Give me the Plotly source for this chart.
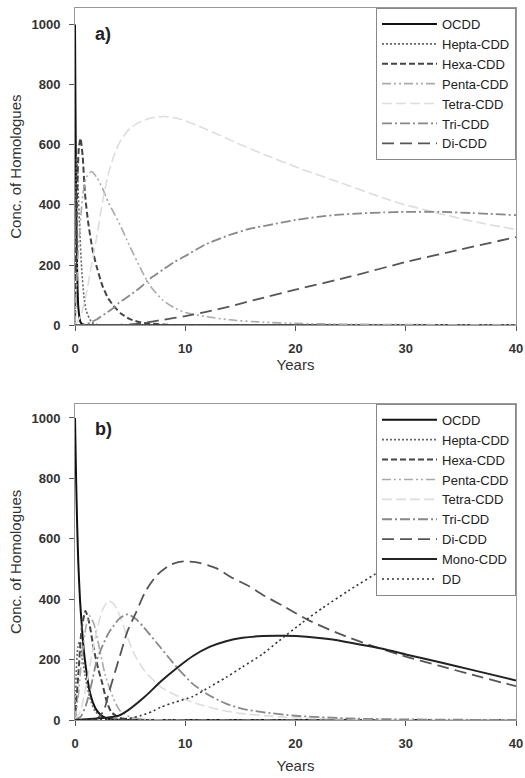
import plotly.graph_objects as go

# ---------------- Panel a data ----------------
t_a_ocdd = [0, 0.05, 0.1, 0.15, 0.2, 0.3, 0.5, 0.8, 2, 40]
v_a_ocdd = [1000, 700, 450, 280, 170, 60, 10, 1, 0, 0]

t_a_hepta = [0, 0.05, 0.1, 0.15, 0.2, 0.3, 0.4, 0.6, 0.8, 1.0, 1.5, 2, 3, 40]
v_a_hepta = [0, 300, 480, 560, 540, 440, 340, 190, 100, 50, 10, 2, 0, 0]

t_a_hexa = [0, 0.1, 0.2, 0.35, 0.5, 0.7, 0.9, 1.2, 1.6, 2, 2.5, 3, 3.6, 4.2, 5, 6, 8, 10, 40]
v_a_hexa = [0, 250, 450, 590, 622, 560, 440, 340, 250, 190, 130, 90, 60, 38, 20, 9, 2, 0, 0]

t_a_penta = [0, 0.3, 0.7, 1, 1.5, 2, 2.5, 3, 3.5, 4, 5, 6, 6.5, 7, 8, 9, 10, 12, 14, 17, 20, 25, 30, 40]
v_a_penta = [0, 250, 430, 490, 511, 490, 455, 410, 375, 340, 260, 185, 150, 122, 82, 58, 42, 28, 18, 10, 6, 3, 2, 1]

t_a_tetra = [0, 0.5, 1, 1.5, 2, 2.5, 3, 3.5, 4, 4.6, 5, 6, 7, 8, 9, 10, 12, 14.7, 17, 20.7, 24, 27.9, 30, 33, 36, 40]
v_a_tetra = [0, 30, 100, 200, 300, 410, 500, 560, 605, 638, 655, 678, 690, 694, 690, 680, 650, 606, 570, 517, 475, 424, 400, 372, 346, 318]

t_a_tri = [0, 1, 2, 3, 3.6, 4, 5, 6, 6.55, 7, 8, 9, 10, 11.8, 14, 16, 17.7, 20, 22, 23.7, 26, 28, 30, 33, 36, 40]
v_a_tri = [0, 3, 20, 45, 60, 75, 100, 128, 147, 160, 185, 210, 230, 268, 300, 322, 334, 350, 360, 367, 372, 375, 377, 377, 373, 366]

t_a_di = [0, 4, 5, 6, 7, 8, 10, 12, 14, 16.5, 20, 25, 30, 35, 40]
v_a_di = [0, 1, 3, 6, 12, 18, 30, 45, 62, 86, 118, 162, 210, 252, 293]

# ---------------- Panel b data ----------------
t_b_ocdd = [0, 0.1, 0.2, 0.3, 0.45, 0.6, 0.8, 1.0, 1.3, 1.6, 2.0, 2.5, 3, 4, 5, 40]
v_b_ocdd = [1000, 800, 640, 520, 400, 320, 230, 170, 100, 60, 30, 12, 4, 1, 0, 0]

t_b_hepta = [0, 0.1, 0.25, 0.4, 0.6, 0.9, 1.3, 1.8, 2.5, 3.5, 40]
v_b_hepta = [0, 150, 240, 260, 220, 150, 80, 30, 8, 1, 0]

t_b_hexa = [0, 0.3, 0.6, 0.95, 1.3, 1.7, 2.1, 2.45, 2.9, 3.3, 4, 5, 7, 40]
v_b_hexa = [0, 150, 300, 361, 320, 235, 170, 125, 59, 26, 8, 2, 0, 0]

t_b_penta = [0, 0.3, 0.6, 1, 1.3, 1.7, 2.2, 2.75, 3.5, 4.1, 5, 6, 8, 40]
v_b_penta = [0, 80, 200, 310, 345, 320, 240, 148, 70, 30, 10, 3, 0, 0]

t_b_tetra = [0, 0.5, 1, 1.5, 2, 2.5, 3, 3.5, 4, 4.5, 5, 5.5, 6.3, 7.8, 9.5, 11, 13, 15, 18, 22, 28, 35, 40]
v_b_tetra = [0, 30, 110, 210, 300, 365, 394, 385, 350, 300, 250, 210, 163, 109, 76, 55, 35, 22, 12, 5, 2, 0, 0]

t_b_tri = [0, 0.5, 1, 1.5, 2, 3, 4, 4.77, 5.5, 6.26, 7.76, 9.25, 10.7, 12.2, 13.7, 15.2, 17, 20, 25, 30, 40]
v_b_tri = [0, 10, 50, 120, 200, 285, 335, 350, 335, 306, 240, 174, 119, 81, 54, 37, 26, 14, 5, 2, 0]

t_b_di = [0, 2, 2.6, 3.13, 4.03, 4.77, 5.52, 6.41, 7.46, 8.65, 9.84, 11.3, 12.8, 14.3, 15.8, 17, 19, 21.2, 24, 27, 30, 33, 36, 40]
v_b_di = [0, 5, 30, 98, 207, 295, 355, 427, 481, 514, 525, 520, 503, 470, 443, 415, 375, 330, 285, 245, 210, 180, 150, 112]

t_b_mono = [0, 2, 3, 4, 4.8, 6.3, 7.8, 9.3, 10.7, 12.2, 13.7, 15.2, 17, 19, 21, 23, 25, 28, 30, 33, 36, 40]
v_b_mono = [0, 5, 8, 15, 32, 76, 128, 174, 212, 242, 261, 272, 278, 279, 276, 268, 256, 235, 217, 192, 166, 131]

t_b_dd = [0, 4, 5, 6, 7, 7.8, 9, 10.7, 12.2, 13.7, 15.2, 17, 18.5, 20.6, 22.5, 24.8, 28, 32, 36, 40]
v_b_dd = [0, 2, 6, 15, 28, 43, 58, 78, 109, 141, 176, 218, 262, 322, 372, 428, 500, 580, 650, 710]

names_a = ["OCDD", "Hepta-CDD", "Hexa-CDD", "Penta-CDD", "Tetra-CDD", "Tri-CDD", "Di-CDD"]
names_b = ["OCDD", "Hepta-CDD", "Hexa-CDD", "Penta-CDD", "Tetra-CDD", "Tri-CDD", "Di-CDD", "Mono-CDD", "DD"]

x_ticks = [0, 10, 20, 30, 40]
y_ticks = [0, 200, 400, 600, 800, 1000]

# ---------------- styles ----------------
styles = {
    "OCDD": dict(color="#111111", width=2, dash="solid"),
    "Hepta-CDD": dict(color="#666666", width=1.6, dash="2px,2px"),
    "Hexa-CDD": dict(color="#444444", width=2, dash="6px,3px"),
    "Penta-CDD": dict(color="#aaaaaa", width=1.6, dash="9px,3px,2px,3px,2px,3px"),
    "Tetra-CDD": dict(color="#dddddd", width=1.6, dash="10px,4px"),
    "Tri-CDD": dict(color="#888888", width=1.8, dash="10px,3px,2px,3px"),
    "Di-CDD": dict(color="#555555", width=1.8, dash="12px,6px"),
    "Mono-CDD": dict(color="#222222", width=2, dash="solid"),
    "DD": dict(color="#333333", width=1.6, dash="2px,3px"),
}

data_a = [(t_a_ocdd, v_a_ocdd), (t_a_hepta, v_a_hepta), (t_a_hexa, v_a_hexa),
          (t_a_penta, v_a_penta), (t_a_tetra, v_a_tetra), (t_a_tri, v_a_tri),
          (t_a_di, v_a_di)]
data_b = [(t_b_ocdd, v_b_ocdd), (t_b_hepta, v_b_hepta), (t_b_hexa, v_b_hexa),
          (t_b_penta, v_b_penta), (t_b_tetra, v_b_tetra), (t_b_tri, v_b_tri),
          (t_b_di, v_b_di), (t_b_mono, v_b_mono), (t_b_dd, v_b_dd)]

fig = go.Figure()
for name, (t, v) in zip(names_a, data_a):
    fig.add_trace(go.Scatter(x=t, y=v, mode="lines", name=name, line=styles[name],
                             line_shape="spline", line_smoothing=0.6,
                             xaxis="x", yaxis="y", legend="legend"))
for name, (t, v) in zip(names_b, data_b):
    fig.add_trace(go.Scatter(x=t, y=v, mode="lines", name=name, line=styles[name],
                             line_shape="spline", line_smoothing=0.6,
                             xaxis="x2", yaxis="y2", legend="legend2"))

font_family = "Liberation Sans, Arial, sans-serif"
axis_common = dict(showline=True, linecolor="#999999", linewidth=1, mirror=True,
                   ticks="outside", ticklen=5, tickcolor="#555555", showgrid=False,
                   zeroline=False, ticklabelstandoff=6, ticklabeloverflow="allow",
                   tickfont=dict(size=13, color="#333333", family=font_family, weight="bold"))

top_a, bot_a = 1.0, 0.5545
top_b, bot_b = 0.4441, 0.0
title_font = dict(size=15, color="#333333", family=font_family)
legend_font = dict(size=13, color="#222222", family=font_family)

fig.update_layout(
    width=525, height=778,
    margin=dict(l=75, r=9, t=7, b=55),
    paper_bgcolor="white", plot_bgcolor="white",
    font=dict(family=font_family, color="#333333"),
    xaxis=dict(domain=[0, 1], range=[0, 40], tickvals=x_ticks, anchor="y",
               automargin="height+bottom",
               title=dict(text="Years", font=title_font, standoff=4), **axis_common),
    yaxis=dict(domain=[bot_a, top_a], range=[0, 1055], tickvals=y_ticks, anchor="x",
               automargin="width+left",
               title=dict(text="Conc. of Homologues", font=title_font, standoff=6), **axis_common),
    xaxis2=dict(domain=[0, 1], range=[0, 40], tickvals=x_ticks, anchor="y2",
                automargin="height+bottom",
                title=dict(text="Years", font=title_font, standoff=10), **axis_common),
    yaxis2=dict(domain=[bot_b, top_b], range=[0, 1047], tickvals=y_ticks, anchor="x2",
                automargin="width+left",
                title=dict(text="Conc. of Homologues", font=title_font, standoff=6), **axis_common),
    legend=dict(x=1, xanchor="right", y=top_a, yanchor="top", bgcolor="white",
                bordercolor="#888888", borderwidth=1, font=legend_font,
                itemwidth=55, tracegroupgap=0),
    legend2=dict(x=1, xanchor="right", y=top_b, yanchor="top", bgcolor="white",
                 bordercolor="#888888", borderwidth=1, font=legend_font,
                 itemwidth=55, tracegroupgap=0),
    annotations=[
        dict(text="<b>a)</b>", x=0.04, y=0.98, xref="paper", yref="paper",
             xanchor="left", yanchor="top", showarrow=False, font=dict(size=18, color="#222222")),
        dict(text="<b>b)</b>", x=0.04, y=top_b - 0.018, xref="paper", yref="paper",
             xanchor="left", yanchor="top", showarrow=False, font=dict(size=18, color="#222222")),
    ],
)

fig.write_html("out.html", config={"displayModeBar": False},
               post_script="document.body.style.margin='0';")
